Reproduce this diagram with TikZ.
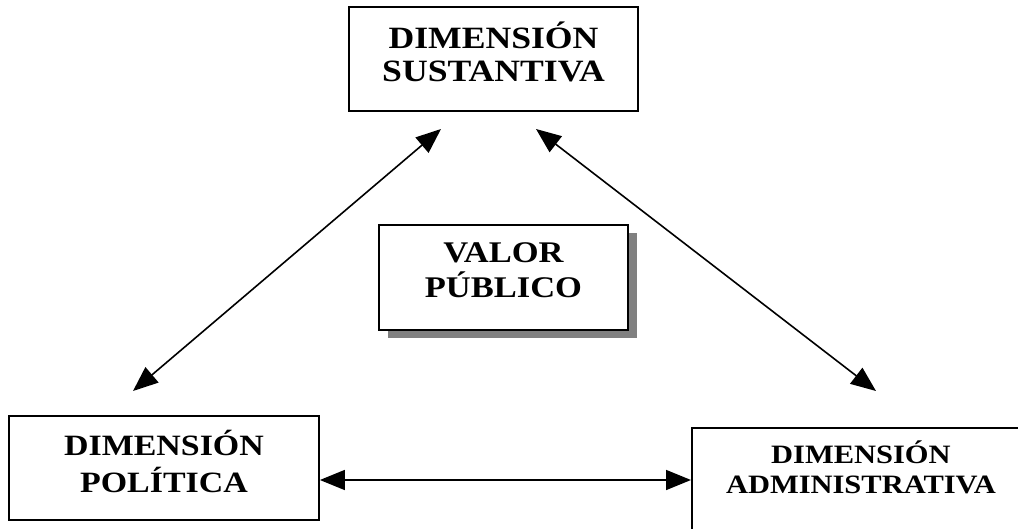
\documentclass[tikz,border=0pt]{standalone}
\usepackage{fontspec}
\usetikzlibrary{arrows.meta, positioning, shadows}
\newfontfamily\dimfont{Liberation Serif}[FakeStretch=1.15]

\begin{document}
\begin{tikzpicture}[
        x=1pt, y=-1pt,
        >={Triangle[length=25pt, width=20pt]},
        dimbox/.style 2 args={draw, line width=1.8pt, fill=white, align=center,
            inner sep=0pt, text depth=0pt, font=\dimfont\bfseries\fontsize{#1}{#2}\selectfont},
        link/.style={<->, line width=1.6pt}
    ]
    \useasboundingbox (0,0) rectangle (1018,529);
    \node[dimbox={31}{33}, text height=46pt, minimum width=289pt, minimum height=104pt] (sus) at (493.5,59) {DIMENSIÓN\\SUSTANTIVA};
    \node[dimbox={30}{35}, text height=41pt, minimum width=249pt, minimum height=105pt,
        drop shadow={shadow xshift=9pt, shadow yshift=-8pt, fill=black!50, opacity=1}] (val) at (503.5,277.5) {VALOR\\PÚBLICO};
    \node[dimbox={29.5}{37}, text height=48pt, minimum width=310pt, minimum height=104pt] (pol) at (164,468) {DIMENSIÓN\\POLÍTICA};
    \node[dimbox={26.5}{30}, text height=66pt, text depth=100pt, minimum width=338pt, anchor=north west] (adm) at (691,427) {DIMENSIÓN\\ADMINISTRATIVA};
    % ends of the diagonal arrows
    \coordinate (sus-l) at (441,129);
    \coordinate (pol-u) at (133,391);
    \coordinate (sus-r) at (536,129);
    \coordinate (adm-u) at (876,391);
    \draw[link] (pol-u) -- (sus-l);
    \draw[link] (sus-r) -- (adm-u);
    \draw[link] ([yshift=-12pt]pol.east) -- ([yshift=-12pt]pol.east -| adm.west);
\end{tikzpicture}
\end{document}
